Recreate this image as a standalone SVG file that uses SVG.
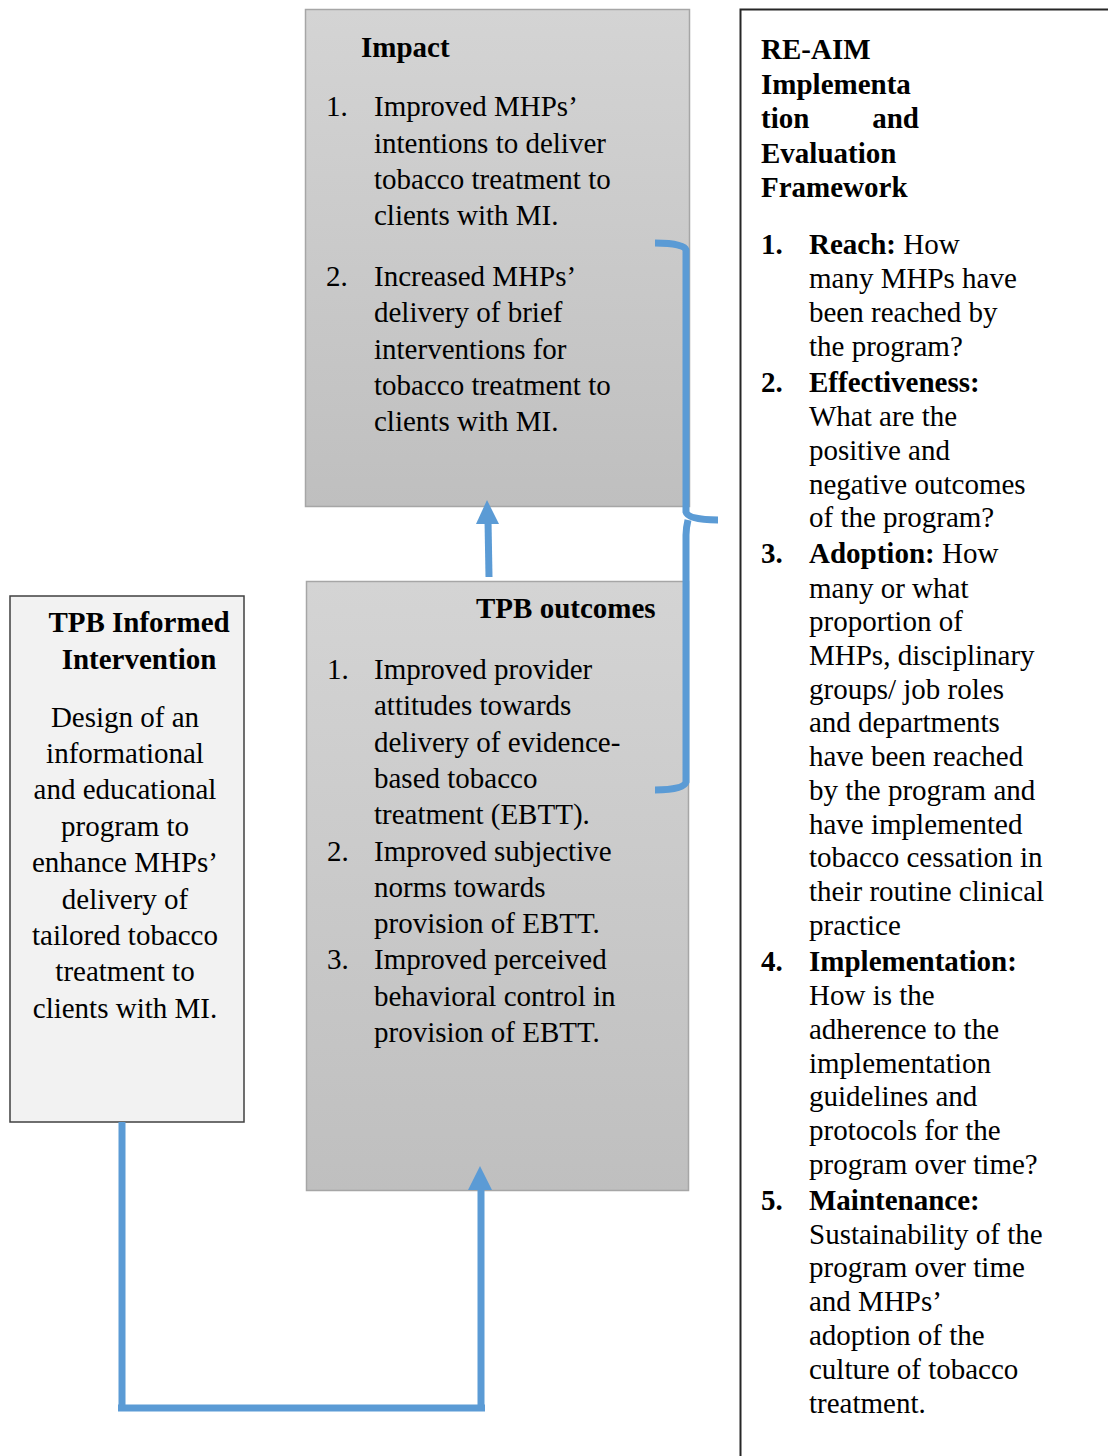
<svg xmlns="http://www.w3.org/2000/svg" width="1108" height="1456" viewBox="0 0 1108 1456">
  <defs>
    <linearGradient id="greyFill" x1="0" y1="0" x2="0" y2="1">
      <stop offset="0" stop-color="#d4d4d4"/>
      <stop offset="1" stop-color="#bfbfbf"/>
    </linearGradient>
    <style>
      text { font-family: "Liberation Serif", "Times New Roman", serif; font-size: 29px; fill: #000; }
      .b { font-weight: bold; }
      .mid { text-anchor: middle; }
      .grey { fill: url(#greyFill); stroke: #a6a6a6; stroke-width: 1.5; }
      .link { fill: none; stroke: #5b9bd5; stroke-width: 7; }
      .head { fill: #5b9bd5; }
    </style>
  </defs>

  <rect width="1108" height="1456" fill="#fff"/>

  <!-- Impact box -->
  <g id="impact">
    <rect class="grey" x="305.5" y="9.5" width="384" height="497"/>
    <text class="b" x="361" y="57">Impact</text>
    <text x="326" y="116">1.</text>
    <text x="374" y="116">Improved MHPs’</text>
    <text x="374" y="153">intentions to deliver</text>
    <text x="374" y="189">tobacco treatment to</text>
    <text x="374" y="225">clients with MI.</text>
    <text x="326" y="286">2.</text>
    <text x="374" y="286">Increased MHPs’</text>
    <text x="374" y="322">delivery of brief</text>
    <text x="374" y="359">interventions for</text>
    <text x="374" y="395">tobacco treatment to</text>
    <text x="374" y="431">clients with MI.</text>
  </g>

  <!-- TPB outcomes box -->
  <g id="tpb-outcomes">
    <rect class="grey" x="306.5" y="581.5" width="382" height="609"/>
    <text class="b" x="476" y="618">TPB outcomes</text>
    <text x="327" y="679">1.</text>
    <text x="374" y="679">Improved provider</text>
    <text x="374" y="715">attitudes towards</text>
    <text x="374" y="752">delivery of evidence-</text>
    <text x="374" y="788">based tobacco</text>
    <text x="374" y="824">treatment (EBTT).</text>
    <text x="327" y="861">2.</text>
    <text x="374" y="861">Improved subjective</text>
    <text x="374" y="897">norms towards</text>
    <text x="374" y="933">provision of EBTT.</text>
    <text x="327" y="969">3.</text>
    <text x="374" y="969">Improved perceived</text>
    <text x="374" y="1006">behavioral control in</text>
    <text x="374" y="1042">provision of EBTT.</text>
  </g>

  <!-- TPB informed intervention box -->
  <g id="tpb-intervention">
    <rect x="10" y="596" width="234" height="526" fill="#f2f2f2" stroke="#404040" stroke-width="1.5"/>
    <text class="b mid" x="139" y="632">TPB Informed</text>
    <text class="b mid" x="139" y="669">Intervention</text>
    <text class="mid" x="125" y="727">Design of an</text>
    <text class="mid" x="125" y="763">informational</text>
    <text class="mid" x="125" y="799">and educational</text>
    <text class="mid" x="125" y="836">program to</text>
    <text class="mid" x="125" y="872">enhance MHPs’</text>
    <text class="mid" x="125" y="909">delivery of</text>
    <text class="mid" x="125" y="945">tailored tobacco</text>
    <text class="mid" x="125" y="981">treatment to</text>
    <text class="mid" x="125" y="1018">clients with MI.</text>
  </g>

  <!-- RE-AIM framework box -->
  <g id="re-aim">
    <rect x="740.5" y="9.5" width="400" height="1460" fill="#fff" stroke="#262626" stroke-width="2"/>
    <text class="b" x="761" y="59">RE-AIM</text>
    <text class="b" x="761" y="94">Implementa</text>
    <text class="b" x="761" y="128">tion</text>
    <text class="b" x="919" y="128" text-anchor="end">and</text>
    <text class="b" x="761" y="163">Evaluation</text>
    <text class="b" x="761" y="197">Framework</text>

    <text class="b" x="761" y="254">1.</text>
    <text x="809" y="254"><tspan class="b">Reach:</tspan> How</text>
    <text x="809" y="288">many MHPs have</text>
    <text x="809" y="322">been reached by</text>
    <text x="809" y="356">the program?</text>

    <text class="b" x="761" y="392">2.</text>
    <text class="b" x="809" y="392">Effectiveness:</text>
    <text x="809" y="426">What are the</text>
    <text x="809" y="460">positive and</text>
    <text x="809" y="494">negative outcomes</text>
    <text x="809" y="527">of the program?</text>

    <text class="b" x="761" y="563">3.</text>
    <text x="809" y="563"><tspan class="b">Adoption:</tspan> How</text>
    <text x="809" y="598">many or what</text>
    <text x="809" y="631">proportion of</text>
    <text x="809" y="665">MHPs, disciplinary</text>
    <text x="809" y="699">groups/ job roles</text>
    <text x="809" y="732">and departments</text>
    <text x="809" y="766">have been reached</text>
    <text x="809" y="800">by the program and</text>
    <text x="809" y="834">have implemented</text>
    <text x="809" y="867">tobacco cessation in</text>
    <text x="809" y="901">their routine clinical</text>
    <text x="809" y="935">practice</text>

    <text class="b" x="761" y="971">4.</text>
    <text class="b" x="809" y="971">Implementation:</text>
    <text x="809" y="1005">How is the</text>
    <text x="809" y="1039">adherence to the</text>
    <text x="809" y="1073">implementation</text>
    <text x="809" y="1106">guidelines and</text>
    <text x="809" y="1140">protocols for the</text>
    <text x="809" y="1174">program over time?</text>

    <text class="b" x="761" y="1210">5.</text>
    <text class="b" x="809" y="1210">Maintenance:</text>
    <text x="809" y="1244">Sustainability of the</text>
    <text x="809" y="1277">program over time</text>
    <text x="809" y="1311">and MHPs’</text>
    <text x="809" y="1345">adoption of the</text>
    <text x="809" y="1379">culture of tobacco</text>
    <text x="809" y="1413">treatment.</text>
  </g>

  <!-- Connectors -->
  <g id="connectors">
    <!-- outcomes to impact -->
    <line class="link" x1="489" y1="577" x2="488" y2="520"/>
    <polygon class="head" points="487,500 476,524 499,524"/>
    <!-- intervention to outcomes -->
    <path class="link" d="M122,1122 V1408 M118,1408 H485 M481,1408 V1188"/>
    <polygon class="head" points="480,1166 468,1190 492,1190"/>
    <!-- brace grouping impact and outcomes -->
    <path class="link" d="M655,243 Q684,243 686,250 V512 Q688,520 718,520 M688,520 Q686,528 686,535 V782 Q684,790 655,790"/>
  </g>
</svg>
